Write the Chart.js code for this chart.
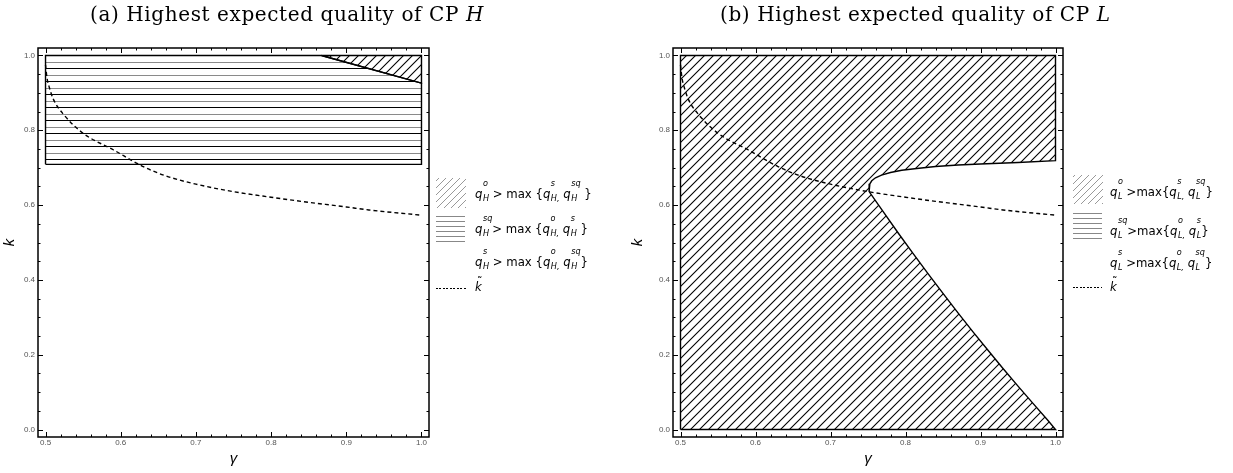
<!DOCTYPE html>
<html>
<head>
<meta charset="utf-8">
<script src="https://cdn.jsdelivr.net/npm/chart.js@4.4.1/dist/chart.umd.min.js"></script>
<style>
  body { margin: 0; width: 1233px; height: 473px; background: #fff; position: relative; overflow: hidden; }
  canvas { position: absolute; top: 0; }
  .title { position: absolute; top: 4px; font: 20px/20px "DejaVu Serif", serif; letter-spacing: 0.6px; white-space: nowrap; color: #000; }
  .sw { position: absolute; }
  .diag { background: repeating-linear-gradient(-45deg, #999 0 1px, transparent 1px 5px); }
  .horiz { background: repeating-linear-gradient(to bottom, #888 0 1px, transparent 1px 5px); }
  .dash { height: 1px; background: repeating-linear-gradient(to right, #000 0 2px, transparent 2px 3.5px); }
  .row { position: absolute; font: 13px/16px "Liberation Sans Narrow", "DejaVu Sans Condensed", "Liberation Sans", sans-serif; font-stretch: condensed; white-space: nowrap; color: #000; }
  .row i { font-style: italic; }
  .st { display: inline-block; vertical-align: -3px; font-size: 9px; line-height: 15px; margin-top: -15px; margin-left: 0.5px; }
  .st i { display: block; }
  .kt { position: relative; display: inline-block; }
  .kt .tl { position: absolute; left: 2px; top: -5px; font-style: normal; font-size: 12px; }
</style>
</head>
<body>
<canvas id="chartA" width="616" height="473" style="left:0"></canvas>
<canvas id="chartB" width="617" height="473" style="left:616px"></canvas>
<div class="title" style="left:90px">(a) Highest expected quality of CP <i>H</i></div>
<div class="title" style="left:720px">(b) Highest expected quality of CP <i>L</i></div>

<div class="sw diag" style="left:436px;top:178px;width:30px;height:30px"></div>
<div class="sw horiz" style="left:436px;top:216px;width:29px;height:26px"></div>
<div class="sw dash" style="left:436px;top:288px;width:30px"></div>
<div class="sw diag" style="left:1073px;top:175px;width:30px;height:29px"></div>
<div class="sw horiz" style="left:1073px;top:213px;width:29px;height:27px"></div>
<div class="sw dash" style="left:1073px;top:287px;width:29px"></div>
<div id="legendA"></div>
<div id="legendB"></div>

<script>
// ticks
const gammaTicks = [0.5, 0.6, 0.7, 0.8, 0.9, 1.0];
const kTicks = [0.0, 0.2, 0.4, 0.6, 0.8, 1.0];

// dashed curve k~
const kTildeGamma = [0.5, 0.502, 0.505, 0.51, 0.525, 0.55, 0.59, 0.63, 0.66, 0.7, 0.75, 0.8, 0.84, 0.9, 0.93, 1.0];
const kTildeK = [0.975, 0.94, 0.915, 0.885, 0.84, 0.792, 0.748, 0.703, 0.678, 0.656, 0.636, 0.621, 0.610, 0.595, 0.587, 0.573];

// (a) CP H regions
const sqGammaH = [0.5, 0.5, 0.867, 1.0, 1.0, 0.5];
const sqKH = [0.709, 1.0, 1.0, 0.926, 0.709, 0.709];
const oGammaH = [0.867, 1.0, 1.0, 0.867];
const oKH = [1.0, 1.0, 0.926, 1.0];

// (b) CP L region (q_L^o best): box, upper boundary (right to left), lower boundary (left to right)
const oGammaL = [0.5, 0.5, 1.0, 1.0, 0.95, 0.9, 0.87, 0.84, 0.815, 0.795, 0.78, 0.768, 0.76, 0.755, 0.7525, 0.7515, 0.7515,
  0.77, 0.79, 0.81, 0.83, 0.85, 0.87, 0.89, 0.91, 0.93, 0.95, 0.97, 0.99, 1.0, 0.5];
const oKL = [0.0, 1.0, 1.0, 0.719, 0.714, 0.710, 0.707, 0.703, 0.698, 0.693, 0.687, 0.680, 0.673, 0.665, 0.657, 0.648, 0.636,
  0.583, 0.526, 0.471, 0.417, 0.364, 0.312, 0.261, 0.212, 0.163, 0.116, 0.070, 0.024, 0.0, 0.0];

// legend labels: [q sub, q sup] pairs and plain text
const legendA = [
  [['H', 'o'], ' > max {', ['H,', 's'], ' ', ['H', 'sq'], ' }'],
  [['H', 'sq'], '> max {', ['H,', 'o'], ' ', ['H', 's'], ' }'],
  [['H', 's'], ' > max {', ['H,', 'o'], ' ', ['H', 'sq'], '}']
];
const legendB = [
  [['L', 'o'], ' >max{', ['L,', 's'], ' ', ['L', 'sq'], '}'],
  [['L', 'sq'], '>max{', ['L,', 'o'], ' ', ['L', 's'], '}'],
  [['L', 's'], ' >max{', ['L,', 'o'], ' ', ['L', 'sq'], '}']
];

function q(sub, sup) {
  return '<i>q</i><span class="st"><i>' + sup + '</i><i>' + sub + '</i></span>';
}

function buildLegend(id, rows, x, tops) {
  let html = '';
  rows.forEach((r, i) => {
    const txt = r.map(p => Array.isArray(p) ? q(p[0], p[1]) : p.replace(/ /g, '&nbsp;')).join('');
    html += '<div class="row" style="left:' + x + 'px;top:' + tops[i] + 'px">' + txt + '</div>';
  });
  html += '<div class="row" style="left:' + x + 'px;top:' + tops[3] + 'px"><span class="kt"><i>k</i><span class="tl">˜</span></span></div>';
  document.getElementById(id).innerHTML = html;
}
buildLegend('legendA', legendA, 475, [186, 221, 254, 279]);
buildLegend('legendB', legendB, 1110, [184, 223, 255, 279]);

function pts(xs, ys) {
  return xs.map((x, i) => ({ x: x, y: ys[i] }));
}

function diagPattern() {
  const s = 9;
  const c = document.createElement('canvas');
  c.width = s; c.height = s;
  const g = c.getContext('2d');
  g.strokeStyle = '#000';
  g.lineWidth = 1.1;
  g.beginPath();
  g.moveTo(0, s); g.lineTo(s, 0);
  g.moveTo(-1, 1); g.lineTo(1, -1);
  g.moveTo(s - 1, s + 1); g.lineTo(s + 1, s - 1);
  g.stroke();
  return g.createPattern(c, 'repeat');
}

function horizPattern() {
  const c = document.createElement('canvas');
  c.width = 4; c.height = 13;
  const g = c.getContext('2d');
  g.fillStyle = '#000';
  g.fillRect(0, 3, 4, 1);
  g.fillStyle = '#8a8a8a';
  g.fillRect(0, 10, 4, 1);
  return g.createPattern(c, 'repeat');
}

// frame with inward ticks, like the original
const frameTicks = {
  id: 'frameTicks',
  afterDatasetsDraw(chart) {
    const { ctx, chartArea: { left, right, top, bottom }, scales: { x, y } } = chart;
    ctx.save();
    ctx.strokeStyle = '#000';
    ctx.lineWidth = 1;
    ctx.beginPath();
    for (let v = 0.5; v <= 1.0001; v += 0.02) {
      const major = gammaTicks.some(t => Math.abs(t - v) < 1e-6);
      const len = major ? 5 : 2.5;
      const px = Math.round(x.getPixelForValue(v)) + 0.5;
      ctx.moveTo(px, bottom); ctx.lineTo(px, bottom - len);
      ctx.moveTo(px, top); ctx.lineTo(px, top + len);
    }
    for (let v = 0; v <= 1.0001; v += 0.05) {
      const major = kTicks.some(t => Math.abs(t - v) < 1e-6);
      const len = major ? 5 : 2.5;
      const py = Math.round(y.getPixelForValue(v)) + 0.5;
      ctx.moveTo(left, py); ctx.lineTo(left + len, py);
      ctx.moveTo(right, py); ctx.lineTo(right - len, py);
    }
    ctx.stroke();
    ctx.lineWidth = 1.5;
    ctx.strokeRect(left, top, right - left, bottom - top);
    ctx.restore();
  }
};

function makeChart(id, datasets, yWidth, yTitlePad, rightPad) {
  return new Chart(document.getElementById(id), {
    type: 'line',
    data: { datasets: datasets },
    options: {
      responsive: false,
      animation: false,
      layout: { padding: { top: 48, right: rightPad, bottom: 0, left: 0 } },
      plugins: { legend: { display: false }, tooltip: { enabled: false } },
      elements: { point: { radius: 0 }, line: { borderColor: '#000', borderWidth: 1.4 } },
      scales: {
        x: {
          type: 'linear', min: 0.49, max: 1.01,
          afterBuildTicks: s => { s.ticks = gammaTicks.map(v => ({ value: v })); },
          afterFit: s => { s.height = 36; },
          grid: { display: false, drawTicks: false },
          border: { display: false },
          ticks: { padding: 1, color: '#555', autoSkip: false, maxRotation: 0,
                   font: { family: 'Liberation Sans', size: 8 }, callback: v => Number(v).toFixed(1) },
          title: { display: true, text: 'γ', color: '#000', padding: { top: 0, bottom: 5 },
                   font: { family: 'Liberation Sans', size: 15, style: 'italic' } }
        },
        y: {
          type: 'linear', min: -0.02, max: 1.02,
          afterBuildTicks: s => { s.ticks = kTicks.map(v => ({ value: v })); },
          afterFit: s => { s.width = yWidth; },
          grid: { display: false, drawTicks: false },
          border: { display: false },
          ticks: { padding: 3, color: '#555',
                   font: { family: 'Liberation Sans', size: 8 }, callback: v => Number(v).toFixed(1) },
          title: { display: true, text: 'k', color: '#000', padding: { top: yTitlePad, bottom: 0 },
                   font: { family: 'Liberation Sans', size: 15, style: 'italic' } }
        }
      }
    },
    plugins: [frameTicks]
  });
}

const diag = diagPattern();
const horiz = horizPattern();

const dashed = () => ({
  data: pts(kTildeGamma, kTildeK), borderColor: '#000', borderWidth: 1.4, borderDash: [4, 3],
  fill: false, cubicInterpolationMode: 'monotone', order: 0
});

makeChart('chartA', [
  dashed(),
  { data: pts(oGammaH, oKH), backgroundColor: diag, fill: 'shape', order: 1 },
  { data: pts(sqGammaH, sqKH), backgroundColor: horiz, fill: 'shape', order: 2 }
], 38, 1, 187);

makeChart('chartB', [
  dashed(),
  { data: pts(oGammaL, oKL), backgroundColor: diag, fill: 'shape', order: 1 }
], 57, 13, 170);
</script>
</body>
</html>
